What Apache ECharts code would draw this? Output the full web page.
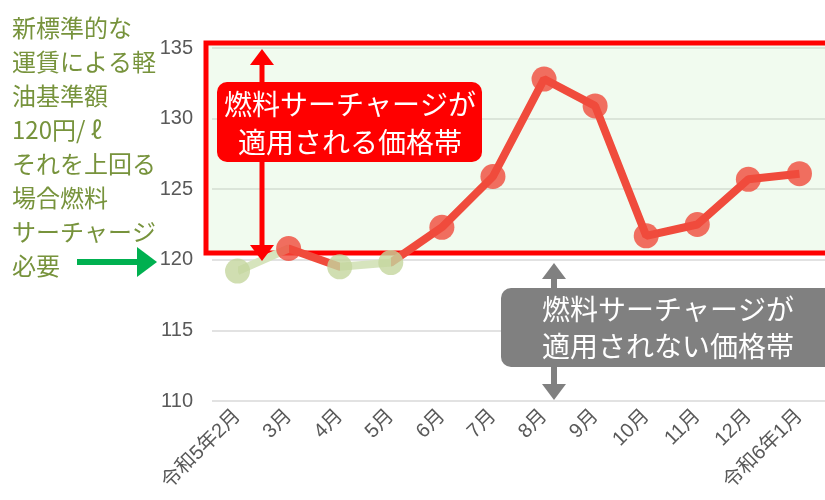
<!DOCTYPE html>
<html><head><meta charset="utf-8">
<script src="https://cdn.jsdelivr.net/npm/echarts@6/dist/echarts.min.js"></script>
<style>html,body{margin:0;padding:0;background:#fff}#c{width:825px;height:500px}</style>
</head><body><div id="c"></div>
<script>
const months = ['令和5年2月','3月','4月','5月','6月','7月','8月','9月','10月','11月','12月','令和6年1月'];
const prices = [119.2, 120.8, 119.5, 119.8, 122.3, 125.9, 132.8, 130.9, 121.7, 122.5, 125.7, 126.1];
// line segment (from month i to month i+1) highlighted as above the threshold
const segmentAbove = [false, true, false, true, true, true, true, true, true, true, true];
const threshold = 120;
const yTicks = {min: 110, max: 135, interval: 5};
const noteLines = ['新標準的な','運賃による軽','油基準額','120円/ ℓ','それを上回る','場合燃料','サーチャージ','必要'];
const applyLabel = ['燃料サーチャージが','適用される価格帯'];
const notApplyLabel = ['燃料サーチャージが','適用されない価格帯'];

const RED = '#f04b3c', GREEN_PT = '#c4d69d', GREEN_LN = '#d6e4bd';
const jp = '"Noto Sans CJK JP", sans-serif';
const axFont = '"Liberation Sans", "Noto Sans CJK JP", sans-serif';

const pieces = segmentAbove.map((up, i) => {
  const p = {gte: i, color: up ? RED : GREEN_LN};
  if (i < segmentAbove.length - 1) p.lt = i + 1;
  return p;
});
const pairs = prices.map((v, i) => [i, v]);
const pts = prices.map((v, i) => ({value: [i, v], itemStyle: {color: v >= threshold ? RED : GREEN_PT}}));

function arrow(x, y1, y2, color, w) {
  return [
    {type: 'line', z: 10, shape: {x1: x, y1: y1 + 12, x2: x, y2: y2 - 12}, style: {stroke: color, lineWidth: w}},
    {type: 'polygon', z: 10, shape: {points: [[x, y1], [x - 12, y1 + 16], [x + 12, y1 + 16]]}, style: {fill: color}},
    {type: 'polygon', z: 10, shape: {points: [[x, y2], [x - 12, y2 - 16], [x + 12, y2 - 16]]}, style: {fill: color}}
  ];
}

const chart = echarts.init(document.getElementById('c'));
chart.setOption({
  animation: false,
  grid: {left: 212, right: 0, top: 48, bottom: 99, containLabel: false},
  xAxis: {
    type: 'category', data: months, boundaryGap: true,
    axisLine: {show: false}, axisTick: {show: false},
    axisLabel: {rotate: 45, fontSize: 20, color: '#595959', fontFamily: axFont, margin: 12, interval: 0}
  },
  yAxis: {
    type: 'value', min: yTicks.min, max: yTicks.max, interval: yTicks.interval,
    axisLine: {show: false}, axisTick: {show: false},
    axisLabel: {fontSize: 20, color: '#595959', fontFamily: axFont, margin: 19},
    splitLine: {lineStyle: {color: '#d9d9d9', width: 1.5}}
  },
  visualMap: {type: 'piecewise', show: false, dimension: 0, seriesIndex: 0, pieces: pieces},
  series: [
    {type: 'line', data: pairs, showSymbol: false, symbol: 'none', lineStyle: {width: 8}, z: 3},
    {type: 'scatter', data: pts, symbolSize: 25, z: 4}
  ],
  graphic: [
    {type: 'rect', z: 1, silent: true, shape: {x: 206, y: 43, width: 650, height: 210}, style: {fill: 'rgba(200,240,190,0.25)', stroke: '#ff0000', lineWidth: 5}},
    {type: 'rect', z: 10, shape: {x: 217, y: 82, width: 265, height: 80, r: 10}, style: {fill: '#ff0000'}},
    {type: 'text', z: 11, style: {x: 350, y: 123, text: applyLabel.join('\n'), fill: '#fff', font: '28px ' + jp, align: 'center', verticalAlign: 'middle', lineHeight: 38}},
    {type: 'rect', z: 10, shape: {x: 501, y: 288, width: 345, height: 79, r: 10}, style: {fill: '#808080'}},
    {type: 'text', z: 11, style: {x: 668, y: 328, text: notApplyLabel.join('\n'), fill: '#fff', font: '28px ' + jp, align: 'center', verticalAlign: 'middle', lineHeight: 37}},
    ...arrow(262, 49, 261, '#ff0000', 5),
    ...arrow(554, 263, 400, '#808080', 6),
    {type: 'text', z: 11, style: {x: 12, y: 11, text: noteLines.join('\n'), fill: '#77933c', font: '24px ' + jp, align: 'left', verticalAlign: 'top', lineHeight: 34}},
    {type: 'line', z: 11, shape: {x1: 77, y1: 262, x2: 140, y2: 262}, style: {stroke: '#00b050', lineWidth: 6}},
    {type: 'polygon', z: 11, shape: {points: [[157, 262], [137, 247], [137, 277]]}, style: {fill: '#00b050'}}
  ]
});
</script></body></html>
